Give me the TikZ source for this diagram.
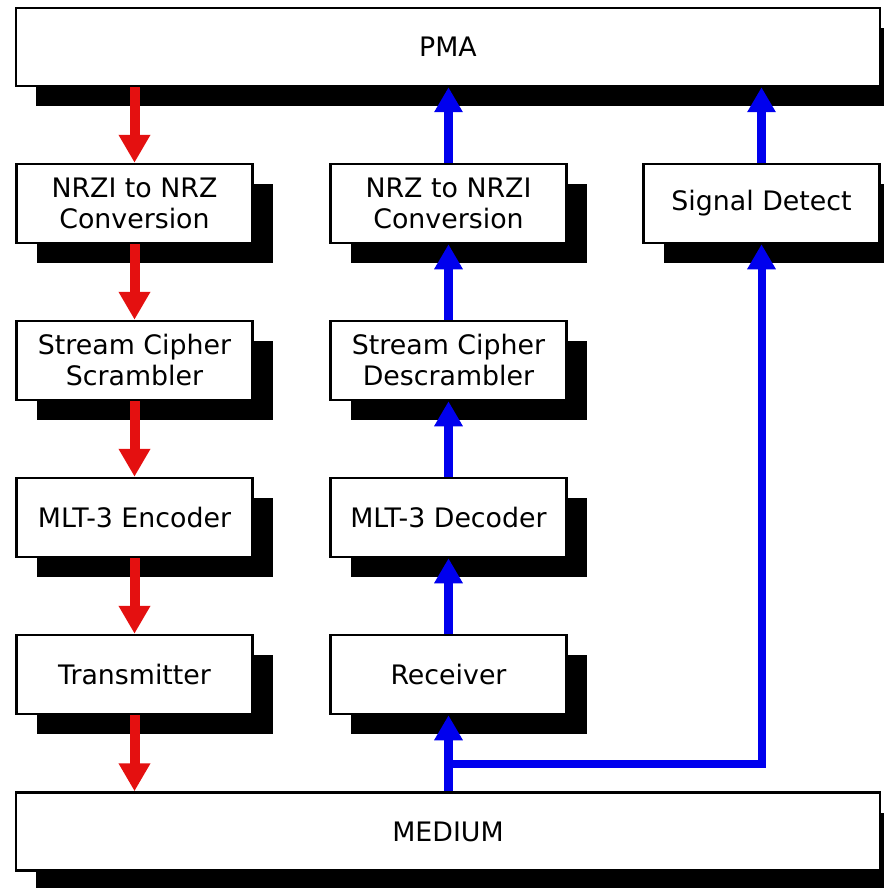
\documentclass[tikz,border=0pt]{standalone}
\usepackage{fontspec}
\setmainfont{DejaVu Sans}
\usetikzlibrary{arrows.meta,shadows}
\definecolor{pcsred}{RGB}{228,16,16}
\definecolor{pcsblue}{RGB}{0,0,238}
\begin{document}
\begin{tikzpicture}[x=1pt,y=1pt,font=\fontsize{26.8}{31}\selectfont,
    blk/.style={draw,line width=2.5pt,fill=white,align=center,inner sep=0pt,
      minimum width=236pt,minimum height=79pt,
      drop shadow={shadow xshift=20pt,shadow yshift=-20pt,fill=black,opacity=1}},
    bar/.style={blk,minimum width=864pt,minimum height=78pt},
    txflow/.style={pcsred,line width=10pt,-{Triangle[width=30pt,length=28pt]}},
    rxflow/.style={pcsblue,line width=8.5pt,-{Triangle[width=27pt,length=25pt]}}]
    \useasboundingbox (0,0) rectangle (883,-888);
    \node[bar] (pma) at (448,-47) {PMA};
    \node[bar] (medium) at (448,-831.5) {MEDIUM};
    % Sendeseite links, Empfangsseite in der Mitte.
    \foreach \name/\y/\txt in {nrzi/203.5/{NRZI to NRZ\\Conversion},
        scr/360.5/{Stream Cipher\\Scrambler},enc/517.5/{MLT-3 Encoder},
        tx/674.5/{Transmitter}}{
      \node[blk] (\name) at (134.5,-\y) {\txt};
    }
    \foreach \name/\y/\txt in {nrz/203.5/{NRZ to NRZI\\Conversion},
        dscr/360.5/{Stream Cipher\\Descrambler},dec/517.5/{MLT-3 Decoder},
        rx/674.5/{Receiver}}{
      \node[blk] (\name) at (448.5,-\y) {\txt};
    }
    \node[blk] (sd) at (761.5,-203.5) {Signal Detect};
    \draw[txflow] (pma.south -| nrzi) -- (nrzi.north);
    \draw[txflow] (nrzi) ++(0,-40.5) -- (scr.north);
    \draw[txflow] (scr) ++(0,-40.5) -- (enc.north);
    \draw[txflow] (enc) ++(0,-40.5) -- (tx.north);
    \draw[txflow] (tx) ++(0,-40.5) -- (medium.north -| tx);
    \draw[rxflow] (medium.north -| rx) -- (rx.south);
    \draw[rxflow] (rx.north) -- (dec.south);
    \draw[rxflow] (dec.north) -- (dscr.south);
    \draw[rxflow] (dscr.north) -- (nrz.south);
    \draw[rxflow] (nrz.north) -- (pma.south -| nrz);
    \draw[rxflow] (sd.north) -- (pma.south -| sd);
    \path (medium.north -| rx) ++(0,27) coordinate (split);
    \draw[rxflow,line width=8pt] (split) -| (sd.south);
\end{tikzpicture}
\end{document}
